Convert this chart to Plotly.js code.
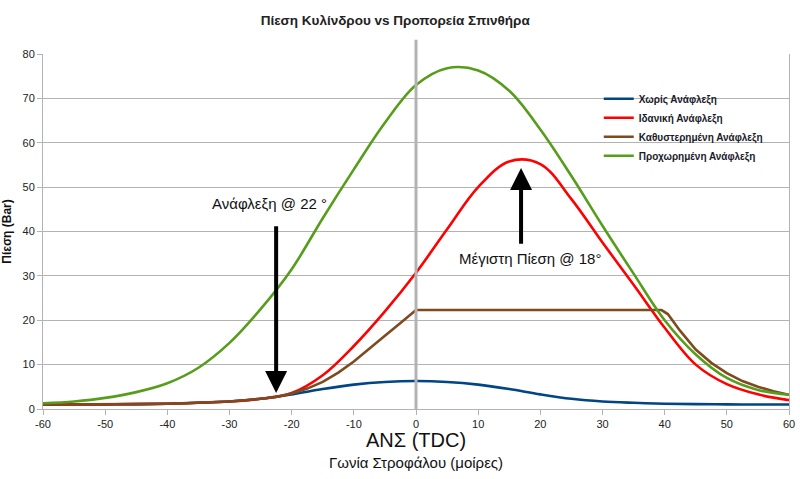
<!DOCTYPE html>
<html>
<head>
<meta charset="utf-8">
<script src="https://cdn.plot.ly/plotly-3.0.1.min.js"></script>
<style>html,body{margin:0;padding:0;background:#fff;}#chart{width:800px;height:479px;}</style>
</head>
<body>
<div id="chart"></div>
<script>
// Crank angle (degrees) and cylinder pressure (Bar)
const angles = [-60,-55,-50,-45,-40,-35,-30,-25,-20,-15,-10,-5,0,5,10,15,20,25,30,35,40,45,50,55,60];
const noIgnition    = [1.0,1.0,1.05,1.1,1.2,1.4,1.7,2.3,3.3,4.5,5.5,6.1,6.3,6.1,5.5,4.5,3.3,2.3,1.7,1.4,1.2,1.1,1.05,1.0,1.0];
const idealIgnition = [1.0,1.0,1.05,1.1,1.2,1.4,1.7,2.3,3.6,7.6,14.2,22.0,30.7,40.5,50.0,55.8,55.2,47.3,37.5,28.0,18.3,10.0,5.6,3.3,2.0];
const earlyIgnition = [1.3,1.7,2.5,3.8,5.8,9.3,14.9,22.5,31.5,43.0,54.0,64.5,73.0,76.8,76.3,71.7,63.0,52.5,41.3,30.5,20.0,12.3,7.0,4.3,3.2];

const lateAngles = [-60,-55,-50,-45,-40,-35,-30,-25,-22.5,-20,-17.5,-15,-12.5,-10,-7.5,-5,-2.5,0,39.5,40.5,42.5,45,47.5,50,52.5,55,57.5,60];
const lateIgnition = [1.0,1.0,1.05,1.1,1.2,1.4,1.7,2.3,2.7,3.5,4.6,6.1,8.2,10.7,13.5,16.5,19.4,22.3,22.3,21.4,17.6,13.4,10.4,8.1,6.3,5.0,4.0,3.2];

const seriesNames = ['Χωρίς Ανάφλεξη','Ιδανική Ανάφλεξη','Καθυστερημένη Ανάφλεξη','Προχωρημένη Ανάφλεξη'];
const yTicks = [0,10,20,30,40,50,60,70,80];
const xTicks = [-60,-50,-40,-30,-20,-10,0,10,20,30,40,50,60];

// annotation anchor values (data units)
const ignitionAngle = -22.5, ignitionTip = 3.6, ignitionTail = 41.5;
const peakAngle = 16.9, peakTip = 54.3, peakTail = 36.9;
const tdcAngle = 0;

const FONT = 'Liberation Sans, Arial, sans-serif';
const colors = ['#004586','#ff0000','#7e4a1e','#579d1c'];

const traces = [
  {x: angles, y: noIgnition, name: seriesNames[0]},
  {x: angles, y: idealIgnition, name: seriesNames[1]},
  {x: lateAngles, y: lateIgnition, name: seriesNames[2], shape: 'linear'},
  {x: angles, y: earlyIgnition, name: seriesNames[3]}
].map((t, i) => ({
  type: 'scatter', mode: 'lines', x: t.x, y: t.y, name: t.name,
  line: {color: colors[i], width: 2.6, shape: t.shape || 'spline', smoothing: 1},
  hoverinfo: 'x+y+name'
}));

const layout = {
  width: 800, height: 479,
  margin: {l: 43, r: 11, t: 54, b: 70},
  paper_bgcolor: '#ffffff', plot_bgcolor: '#ffffff',
  font: {family: FONT, size: 11, color: '#222'},
  title: {text: '<b>Πίεση Κυλίνδρου vs Προπορεία Σπινθήρα</b>', font: {family: FONT, size: 13.5, color: '#222'},
          x: 0.494, xanchor: 'center', y: 0.958, yanchor: 'middle', xref: 'container', yref: 'container'},
  showlegend: true,
  legend: {x: 0.745, y: 0.915, xanchor: 'left', yanchor: 'top', bgcolor: 'rgba(0,0,0,0)',
           font: {family: FONT, size: 10, color: '#1a1a2a', weight: 'bold'}, tracegroupgap: 0},
  xaxis: {range: [-60, 60], tickvals: xTicks, ticktext: xTicks.map(String), showgrid: false, zeroline: false,
          showline: true, linecolor: '#b3b3b3', linewidth: 1, ticks: 'outside', ticklen: 5, tickcolor: '#b3b3b3',
          tickfont: {family: FONT, size: 11, color: '#222'},
          title: {text: 'Γωνία Στροφάλου (μοίρες)', font: {family: FONT, size: 15, color: '#111'}, standoff: 28}},
  yaxis: {range: [0, 80], tickvals: yTicks, ticktext: yTicks.map(String), showgrid: true, gridcolor: '#b3b3b3', gridwidth: 1,
          zeroline: false, showline: true, linecolor: '#b3b3b3', linewidth: 1, mirror: true,
          ticks: 'outside', ticklen: 5, tickcolor: '#b3b3b3',
          tickfont: {family: FONT, size: 11, color: '#222'},
          title: {text: '<b>Πίεση (Bar)</b>', font: {family: FONT, size: 12, color: '#111'}, standoff: 8}},
  shapes: [
    {type: 'line', xref: 'x', yref: 'paper', x0: tdcAngle, x1: tdcAngle, y0: -0.003, y1: 1.04,
     line: {color: '#b3b3b3', width: 3}, layer: 'above'}
  ],
  annotations: [
    {xref: 'x', yref: 'y', axref: 'x', ayref: 'y', x: ignitionAngle, y: ignitionTip, ax: ignitionAngle, ay: ignitionTail,
     text: '', showarrow: true, arrowhead: 2, arrowsize: 1.1, arrowwidth: 4, arrowcolor: '#000', standoff: 0},
    {xref: 'x', yref: 'y', x: -23.5, y: 46.2, text: 'Ανάφλεξη @ 22 °', showarrow: false,
     font: {family: FONT, size: 15, color: '#111'}},
    {xref: 'x', yref: 'y', axref: 'x', ayref: 'y', x: peakAngle, y: peakTip, ax: peakAngle, ay: peakTail,
     text: '', showarrow: true, arrowhead: 2, arrowsize: 1.1, arrowwidth: 4, arrowcolor: '#000', standoff: 0},
    {xref: 'x', yref: 'y', x: 18.3, y: 34.0, text: 'Μέγιστη Πίεση @ 18°', showarrow: false,
     font: {family: FONT, size: 15, color: '#111'}},
    {xref: 'x', yref: 'paper', x: tdcAngle, y: -0.086, yanchor: 'middle', text: 'ΑΝΣ (TDC)', showarrow: false,
     font: {family: FONT, size: 20, color: '#111'}}
  ]
};

Plotly.newPlot('chart', traces, layout, {displayModeBar: false, staticPlot: true});
</script>
</body>
</html>
